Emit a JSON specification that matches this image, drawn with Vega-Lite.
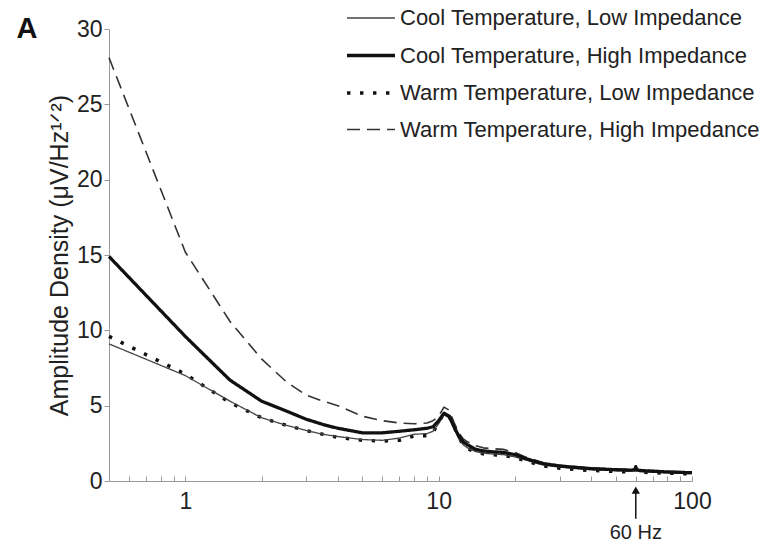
{
  "$schema": "https://vega.github.io/schema/vega-lite/v6.json",
  "width": 583,
  "height": 452,
  "autosize": {"type": "none"},
  "padding": {"left": 109, "top": 29, "right": 67, "bottom": 66},
  "background": "white",
  "config": {
    "view": {"stroke": null},
    "axis": {"grid": false, "labelFont": "Liberation Sans", "titleFont": "Liberation Sans", "labelColor": "#222", "titleColor": "#222", "domainColor": "#999", "tickColor": "#999", "labelFontSize": 23},
    "legend": {"labelFont": "Liberation Sans", "labelFontSize": 22, "labelColor": "#222", "labelLimit": 0}
  },
  "layer": [
    {
      "data": {"values": [
        {"f":0.5,"CL":9.1,"CH":14.9,"WL":9.6,"WH":28.1},
        {"f":1,"CL":7.0,"CH":9.6,"WL":7.1,"WH":15.2},
        {"f":1.5,"CL":5.3,"CH":6.7,"WL":5.2,"WH":10.6},
        {"f":2,"CL":4.2,"CH":5.3,"WL":4.2,"WH":8.1},
        {"f":2.5,"CL":3.7,"CH":4.65,"WL":3.7,"WH":6.6},
        {"f":3,"CL":3.35,"CH":4.1,"WL":3.35,"WH":5.7},
        {"f":3.5,"CL":3.1,"CH":3.75,"WL":3.1,"WH":5.3},
        {"f":4,"CL":2.95,"CH":3.5,"WL":2.9,"WH":5.0},
        {"f":5,"CL":2.75,"CH":3.2,"WL":2.7,"WH":4.3},
        {"f":6,"CL":2.7,"CH":3.2,"WL":2.65,"WH":4.0},
        {"f":7,"CL":2.85,"CH":3.3,"WL":2.7,"WH":3.85},
        {"f":8,"CL":3.1,"CH":3.4,"WL":3.0,"WH":3.8},
        {"f":9,"CL":3.15,"CH":3.5,"WL":3.0,"WH":3.85},
        {"f":9.5,"CL":3.3,"CH":3.6,"WL":3.2,"WH":4.0},
        {"f":10,"CL":3.8,"CH":4.0,"WL":3.9,"WH":4.3},
        {"f":10.5,"CL":4.4,"CH":4.5,"WL":4.5,"WH":4.9},
        {"f":11,"CL":4.2,"CH":4.3,"WL":4.3,"WH":4.7},
        {"f":11.5,"CL":3.5,"CH":3.6,"WL":3.6,"WH":3.9},
        {"f":12,"CL":2.8,"CH":3.0,"WL":2.9,"WH":3.2},
        {"f":12.5,"CL":2.4,"CH":2.6,"WL":2.4,"WH":2.8},
        {"f":13,"CL":2.2,"CH":2.4,"WL":2.15,"WH":2.6},
        {"f":14,"CL":1.95,"CH":2.1,"WL":1.9,"WH":2.35},
        {"f":15,"CL":1.85,"CH":2.0,"WL":1.8,"WH":2.2},
        {"f":16,"CL":1.8,"CH":1.95,"WL":1.75,"WH":2.15},
        {"f":18,"CL":1.75,"CH":1.9,"WL":1.7,"WH":2.1},
        {"f":20,"CL":1.6,"CH":1.75,"WL":1.55,"WH":1.9},
        {"f":22,"CL":1.4,"CH":1.5,"WL":1.35,"WH":1.6},
        {"f":24,"CL":1.2,"CH":1.3,"WL":1.15,"WH":1.4},
        {"f":26,"CL":1.05,"CH":1.15,"WL":1.0,"WH":1.2},
        {"f":30,"CL":0.92,"CH":1.0,"WL":0.85,"WH":1.05},
        {"f":35,"CL":0.82,"CH":0.9,"WL":0.75,"WH":0.95},
        {"f":40,"CL":0.75,"CH":0.82,"WL":0.7,"WH":0.87},
        {"f":50,"CL":0.68,"CH":0.75,"WL":0.63,"WH":0.8},
        {"f":58,"CL":0.65,"CH":0.72,"WL":0.6,"WH":0.76},
        {"f":59.5,"CL":0.68,"CH":0.75,"WL":0.63,"WH":0.8},
        {"f":60,"CL":0.85,"CH":0.95,"WL":0.8,"WH":1.0},
        {"f":60.5,"CL":0.68,"CH":0.75,"WL":0.63,"WH":0.8},
        {"f":62,"CL":0.63,"CH":0.7,"WL":0.6,"WH":0.75},
        {"f":70,"CL":0.58,"CH":0.65,"WL":0.55,"WH":0.7},
        {"f":80,"CL":0.54,"CH":0.6,"WL":0.52,"WH":0.65},
        {"f":90,"CL":0.51,"CH":0.57,"WL":0.49,"WH":0.62},
        {"f":100,"CL":0.49,"CH":0.55,"WL":0.47,"WH":0.6}
      ]},
      "transform": [{"fold": ["WH", "WL", "CL", "CH"], "as": ["series", "v"]}],
      "mark": {"type": "line", "strokeCap": "butt", "strokeJoin": "round"},
      "encoding": {
        "x": {"field": "f", "type": "quantitative",
          "scale": {"type": "log", "domain": [0.5, 100], "nice": false},
          "axis": {"title": null, "values": [0.6,0.7,0.8,0.9,1,2,3,4,5,6,7,8,9,10,20,30,40,50,60,70,80,90,100],
            "labelExpr": "datum.value == 1 || datum.value == 10 || datum.value == 100 ? datum.label : ''",
            "format": "d", "tickSize": -5, "labelPadding": 14, "labelFlush": false, "labelOverlap": false}},
        "y": {"field": "v", "type": "quantitative",
          "scale": {"domain": [0, 30], "nice": false},
          "axis": {"title": "Amplitude Density (μV/Hz¹ᐟ²)", "titleFontSize": 25, "titleFontWeight": "normal", "titlePadding": 4,
            "values": [0,5,10,15,20,25,30], "tickSize": 5, "labelPadding": 2}},
        "color": {"field": "series", "type": "nominal",
          "scale": {"domain": ["CL","CH","WL","WH"], "range": ["#444","#111","#111","#333"]},
          "legend": {"title": null, "orient": "none", "legendX": 236, "legendY": -36, "symbolType": "stroke", "symbolSize": 2300, "labelOffset": 3, "rowPadding": 0.5, "labelLimit": 0,
            "labelExpr": "datum.label == 'CL' ? 'Cool Temperature, Low Impedance' : datum.label == 'CH' ? 'Cool Temperature, High Impedance' : datum.label == 'WL' ? 'Warm Temperature, Low Impedance' : 'Warm Temperature, High Impedance'"}},
        "strokeWidth": {"field": "series", "type": "nominal",
          "scale": {"type": "ordinal", "domain": ["CL","CH","WL","WH"], "range": [1.3, 3.3, 3.4, 1.6]}},
        "strokeDash": {"field": "series", "type": "nominal",
          "scale": {"domain": ["CL","CH","WL","WH"], "range": [[1,0],[1,0],[3.4,9.6],[13,7]]}}
      }
    },
    {
      "data": {"values": [{"f": 60, "y1": -0.6, "y2": -2.5, "label": "60 Hz", "ty": -3.45}]},
      "layer": [
        {"mark": {"type": "rule", "color": "#111", "strokeWidth": 1.5},
         "encoding": {"x": {"field": "f", "type": "quantitative"}, "y": {"field": "y1", "type": "quantitative"}, "y2": {"field": "y2"}}},
        {"mark": {"type": "point", "shape": "triangle-up", "filled": true, "color": "#111", "size": 70, "opacity": 1},
         "encoding": {"x": {"field": "f", "type": "quantitative"}, "y": {"field": "y1", "type": "quantitative"}}},
        {"mark": {"type": "text", "font": "Liberation Sans", "fontSize": 20, "color": "#222", "baseline": "middle", "align": "center"},
         "encoding": {"x": {"field": "f", "type": "quantitative"}, "y": {"field": "ty", "type": "quantitative"}, "text": {"field": "label"}}}
      ]
    },
    {
      "data": {"values": [{"f": 0.237, "v": 29.4, "label": "A"}]},
      "mark": {"type": "text", "font": "Liberation Sans", "fontSize": 29, "fontWeight": "bold", "color": "#111", "align": "center", "baseline": "alphabetic"},
      "encoding": {"x": {"field": "f", "type": "quantitative"}, "y": {"field": "v", "type": "quantitative"}, "text": {"field": "label"}}
    }
  ]
}
